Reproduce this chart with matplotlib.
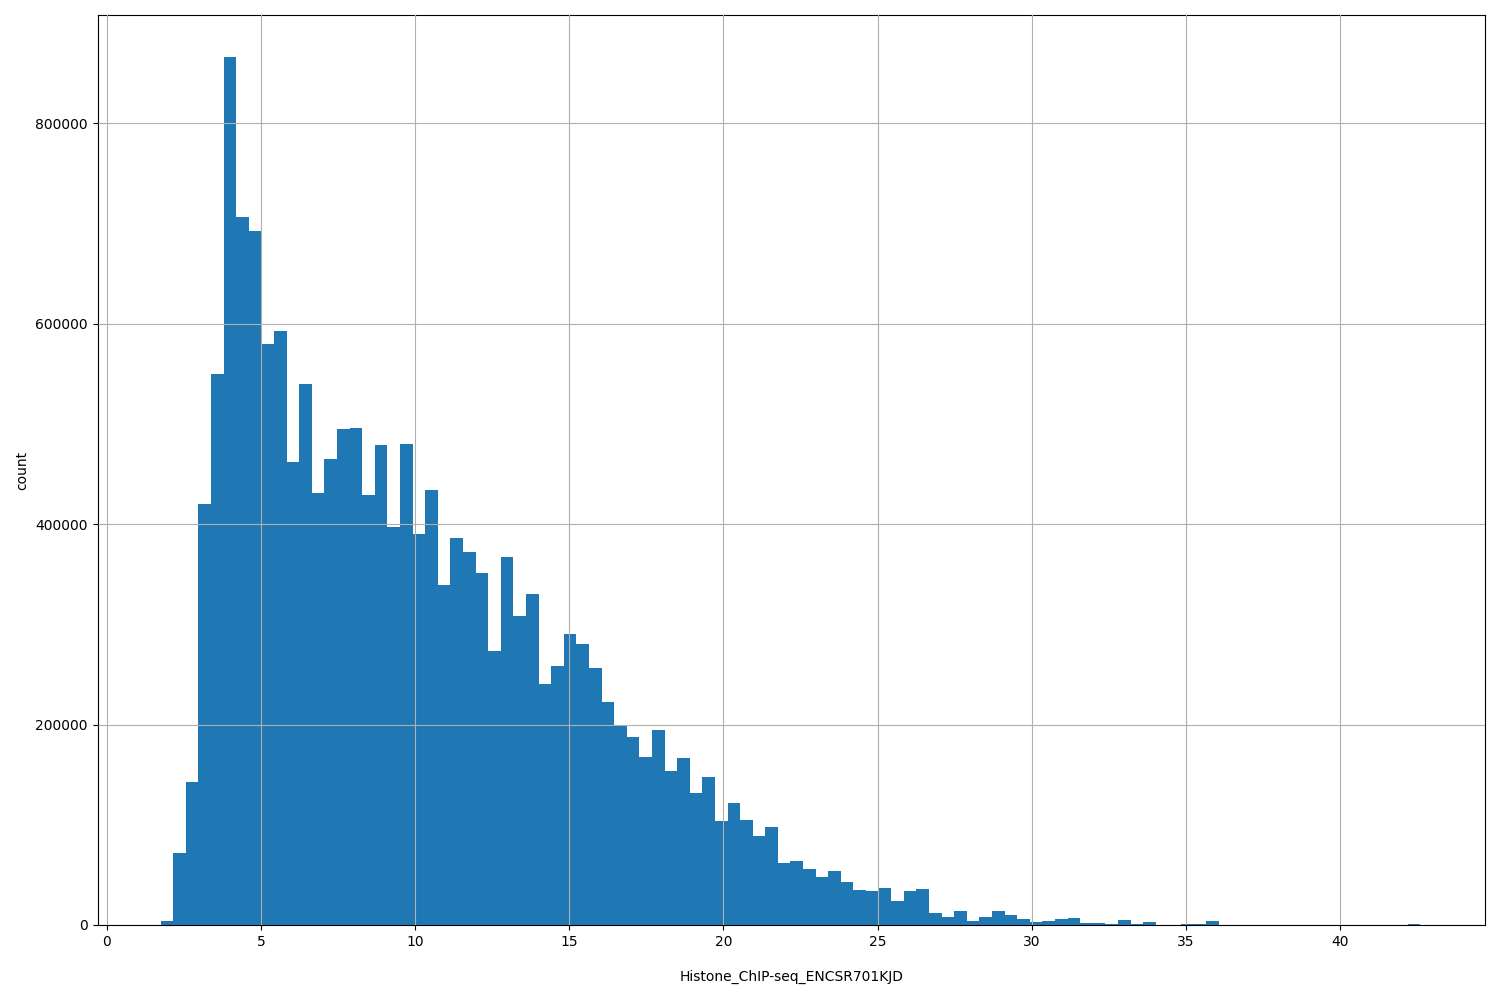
import numpy as np
import matplotlib
matplotlib.use("Agg")
import matplotlib.pyplot as plt

xmin, xmax = 1.75, 42.6
counts = [4000, 72000, 143000, 420000, 550000, 866000, 706000, 692000, 580000, 593000,
          462000, 540000, 431000, 465000, 495000, 496000, 429000, 479000, 397000, 480000,
          390000, 434000, 339000, 386000, 372000, 351000, 273000, 367000, 308000, 330000,
          240000, 258000, 290000, 280000, 256000, 223000, 200000, 188000, 168000, 195000,
          154000, 167000, 132000, 148000, 104000, 122000, 105000, 89000, 98000, 62000,
          64000, 56000, 48000, 54000, 43000, 35000, 34000, 37000, 24000, 34000,
          36000, 12000, 8000, 14000, 4000, 8000, 14000, 10000, 6000, 3000,
          4000, 6000, 7000, 2000, 2000, 1000, 5000, 1000, 3000, 300,
          300, 1000, 1000, 4000, 0, 0, 0, 0, 0, 0,
          0, 0, 0, 0, 0, 0, 0, 0, 0, 1000]
edges = np.linspace(xmin, xmax, len(counts) + 1)

fig = plt.figure(figsize=(15, 10), dpi=100)
ax = fig.add_axes([0.065, 0.075, 0.925, 0.91])
ax.bar(edges[:-1], counts, width=np.diff(edges), align='edge', color='#1f77b4')
ax.set_xlim(-0.3, 44.7)
ax.set_ylim(0, 908000)
ax.grid(True)
ax.set_axisbelow(False)
ax.set_xlabel("Histone_ChIP-seq_ENCSR701KJD", labelpad=15)
ax.set_ylabel("count")
fig.savefig("out.png")
